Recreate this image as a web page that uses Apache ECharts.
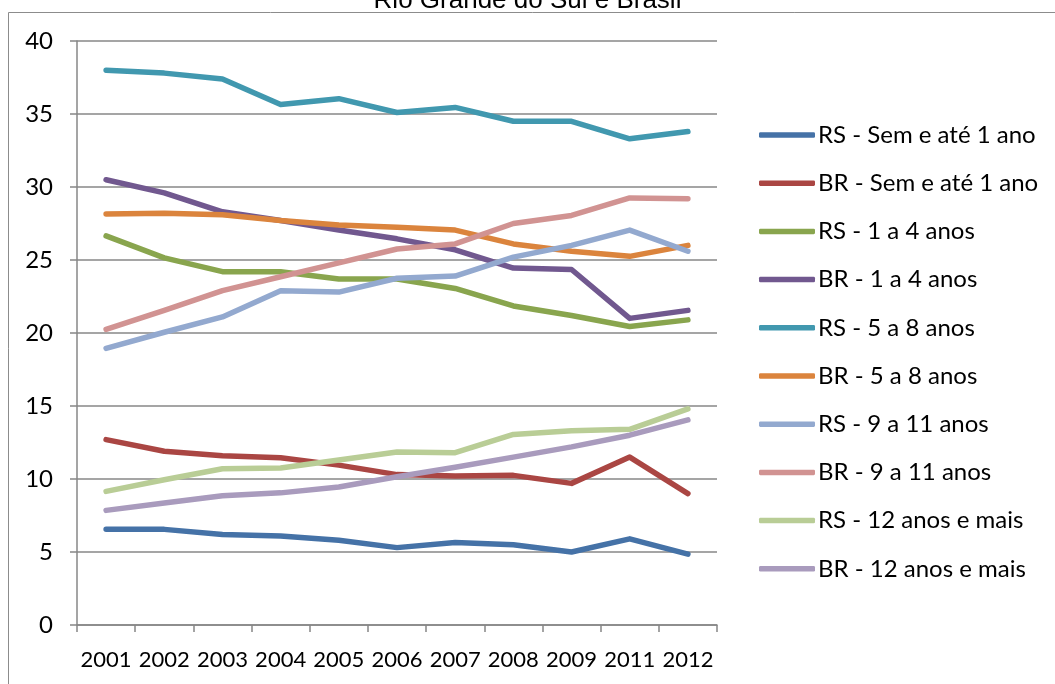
<!DOCTYPE html>
<html>
<head>
<meta charset="utf-8">
<title>Rio Grande do Sul e Brasil</title>
<script src="https://cdn.jsdelivr.net/npm/echarts@6/dist/echarts.min.js"></script>
<style>
  html, body { margin: 0; padding: 0; background: #fff; }
  #chart { width: 1055px; height: 684px; }
</style>
</head>
<body>
<div id="chart"></div>
<script>
// Years on the horizontal axis (2010 has no survey)
const years = ['2001', '2002', '2003', '2004', '2005', '2006', '2007', '2008', '2009', '2011', '2012'];

// Share (%) per schooling group, Rio Grande do Sul (RS) and Brasil (BR)
const rsSemAte1 = [6.55, 6.55, 6.2, 6.1, 5.8, 5.3, 5.65, 5.5, 5.0, 5.9, 4.85];
const brSemAte1 = [12.7, 11.9, 11.6, 11.45, 10.95, 10.3, 10.2, 10.25, 9.7, 11.5, 9.0];
const rs1a4 = [26.65, 25.15, 24.2, 24.2, 23.7, 23.7, 23.05, 21.85, 21.2, 20.45, 20.9];
const br1a4 = [30.5, 29.6, 28.3, 27.7, 27.05, 26.45, 25.7, 24.45, 24.35, 21.0, 21.55];
const rs5a8 = [38.0, 37.8, 37.4, 35.65, 36.05, 35.1, 35.45, 34.5, 34.5, 33.3, 33.8];
const br5a8 = [28.15, 28.2, 28.1, 27.7, 27.4, 27.25, 27.05, 26.1, 25.6, 25.25, 26.0];
const rs9a11 = [18.95, 20.05, 21.1, 22.9, 22.8, 23.75, 23.9, 25.2, 26.0, 27.05, 25.6];
const br9a11 = [20.25, 21.55, 22.9, 23.85, 24.8, 25.75, 26.1, 27.5, 28.05, 29.25, 29.2];
const rs12mais = [9.15, 9.95, 10.7, 10.75, 11.3, 11.85, 11.8, 13.05, 13.3, 13.4, 14.8];
const br12mais = [7.85, 8.35, 8.85, 9.05, 9.45, 10.15, 10.8, 11.5, 12.2, 13.0, 14.05];

// Left axis ticks
const yTicks = { min: 0, max: 40, interval: 5 };

const seriesDefs = [
  { name: 'RS - Sem e até 1 ano', data: rsSemAte1, color: '#4572A7' },
  { name: 'BR - Sem e até 1 ano', data: brSemAte1, color: '#AA4643' },
  { name: 'RS - 1 a 4 anos', data: rs1a4, color: '#89A54E' },
  { name: 'BR - 1 a 4 anos', data: br1a4, color: '#71588F' },
  { name: 'RS - 5 a 8 anos', data: rs5a8, color: '#4198AF' },
  { name: 'BR - 5 a 8 anos', data: br5a8, color: '#DB843D' },
  { name: 'RS - 9 a 11 anos', data: rs9a11, color: '#93A9CF' },
  { name: 'BR - 9 a 11 anos', data: br9a11, color: '#D19392' },
  { name: 'RS - 12 anos e mais', data: rs12mais, color: '#B9CD96' },
  { name: 'BR - 12 anos e mais', data: br12mais, color: '#A99BBD' }
];

const FONT = 'Lato, "Open Sans", sans-serif';
const GRID_GREY = '#878787';

const chart = echarts.init(document.getElementById('chart'), null, { renderer: 'canvas' });

chart.setOption({
  animation: false,
  backgroundColor: '#ffffff',
  title: {
    text: 'Rio Grande do Sul e Brasil',
    left: 'center',
    top: -17,
    textStyle: {
      fontFamily: '"Liberation Sans Narrow", "Liberation Sans", sans-serif',
      fontWeight: 'normal',
      fontSize: 26,
      color: '#000'
    }
  },
  graphic: [
    {
      type: 'rect',
      shape: { x: 8.5, y: 12.5, width: 1100, height: 700 },
      style: { fill: 'none', stroke: '#8c8c8c', lineWidth: 1 },
      silent: true,
      z: -1
    }
  ],
  legend: {
    orient: 'vertical',
    left: 754,
    top: 117,
    itemWidth: 56,
    itemHeight: 5.5,
    itemGap: 22.2,
    icon: 'roundRect',
    textStyle: {
      fontFamily: FONT,
      fontSize: 24,
      lineHeight: 26,
      color: '#000',
      padding: [0, 0, 0, -2]
    },
    data: seriesDefs.map(s => s.name)
  },
  grid: {
    left: 77,
    right: 338,
    top: 41,
    bottom: 59,
    containLabel: false
  },
  xAxis: {
    type: 'category',
    data: years,
    boundaryGap: true,
    axisLine: { show: true, lineStyle: { color: GRID_GREY, width: 1.5 } },
    axisTick: { show: true, length: 7, interval: 0, lineStyle: { color: GRID_GREY, width: 1.5 } },
    axisLabel: {
      interval: 0,
      fontFamily: FONT,
      fontSize: 22,
      color: '#000',
      margin: 24
    },
    splitLine: { show: false }
  },
  yAxis: {
    type: 'value',
    min: yTicks.min,
    max: yTicks.max,
    interval: yTicks.interval,
    axisLine: { show: true, lineStyle: { color: GRID_GREY, width: 1.5 } },
    axisTick: { show: true, length: 7, lineStyle: { color: GRID_GREY, width: 1.5 } },
    axisLabel: {
      fontFamily: FONT,
      fontSize: 24,
      color: '#000',
      margin: 24
    },
    splitLine: { show: true, lineStyle: { color: GRID_GREY, width: 1.5 } }
  },
  series: seriesDefs.map(s => ({
    name: s.name,
    type: 'line',
    data: s.data,
    symbol: 'none',
    smooth: false,
    color: s.color,
    lineStyle: { color: s.color, width: 5.5, cap: 'round', join: 'round' },
    itemStyle: { color: s.color }
  }))
});
</script>
</body>
</html>
